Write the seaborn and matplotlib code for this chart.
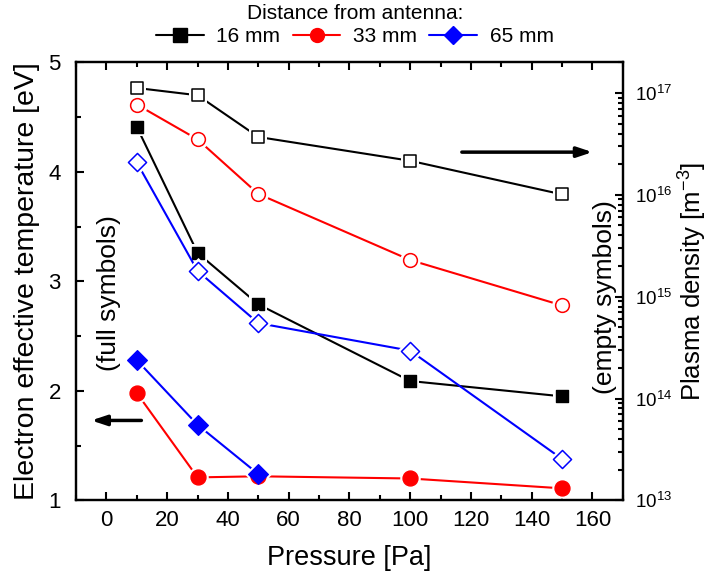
import matplotlib
matplotlib.use("Agg")
import matplotlib.pyplot as plt
from matplotlib.lines import Line2D
from matplotlib.ticker import MultipleLocator, LogLocator, NullFormatter
import pandas as pd
import seaborn as sns

# ---------------------------------------------------------------------------
# DATA
# ---------------------------------------------------------------------------
pressure = [10, 30, 50, 100, 150]
pressure_65 = [10, 30, 50]

# electron effective temperature [eV] (full symbols, left axis)
te_16 = [4.41, 3.26, 2.79, 2.09, 1.95]
te_33 = [1.98, 1.21, 1.22, 1.20, 1.11]
te_65 = [2.28, 1.69, 1.24]

# plasma density [m^-3] (empty symbols, right axis)
ne_16 = [1.12e17, 9.5e16, 3.7e16, 2.16e16, 1.01e16]
ne_33 = [7.7e16, 3.5e16, 1.02e16, 2.29e15, 8.2e14]
ne_65 = [2.08e16, 1.79e15, 5.5e14, 2.95e14, 2.55e13]

labels = ["16 mm", "33 mm", "65 mm"]
colors = ["black", "red", "blue"]
markers = ["s", "o", "D"]
msizes = [85, 115, 100]

sns.set_style("ticks")
plt.rcParams["font.family"] = ["Liberation Sans", "DejaVu Sans"]
plt.rcParams["mathtext.fontset"] = "custom"
plt.rcParams["mathtext.rm"] = "Liberation Sans"
plt.rcParams["mathtext.it"] = "Liberation Sans:italic"
for key in ["text.color", "axes.labelcolor", "xtick.color", "ytick.color",
            "axes.edgecolor"]:
    plt.rcParams[key] = "black"

fig = plt.figure(figsize=(7.11, 5.88), dpi=100)
ax = fig.add_axes([0.107, 0.149, 0.769, 0.745])
ax2 = ax.twinx()


def draw_series(axis, x, y, color, marker, size, filled):
    df = pd.DataFrame({"x": x, "y": y})
    sns.lineplot(data=df, x="x", y="y", color=color, linewidth=1.5,
                 ax=axis, zorder=2, legend=False)
    # white halo gives the gap between line and symbol
    sns.scatterplot(data=df, x="x", y="y", marker=marker, s=size * 1.9,
                    color="white", edgecolor="white", linewidth=0,
                    ax=axis, zorder=3, legend=False)
    sns.scatterplot(data=df, x="x", y="y", marker=marker,
                    s=size if filled else size * 0.85,
                    color=color if filled else "white",
                    edgecolor=color, linewidth=1.0 if filled else 1.1,
                    ax=axis, zorder=4, legend=False)


te_all = [(pressure, te_16), (pressure, te_33), (pressure_65, te_65)]
ne_all = [ne_16, ne_33, ne_65]

for (x, y), c, m, s in zip(te_all, colors, markers, msizes):
    draw_series(ax, x, y, c, m, s, True)
for y, c, m, s in zip(ne_all, colors, markers, msizes):
    draw_series(ax2, pressure, y, c, m, s, False)

# axes ranges / ticks
ax.set_xlim(-10, 170)
ax.set_ylim(1, 5)
ax.xaxis.set_major_locator(MultipleLocator(20))
ax.xaxis.set_minor_locator(MultipleLocator(10))
ax.yaxis.set_major_locator(MultipleLocator(1))
ax.yaxis.set_minor_locator(MultipleLocator(0.5))
ax.tick_params(which="both", direction="in", top=True, right=False,
               width=1.5, labelsize=16)
ax.tick_params(axis="y", pad=11)
ax.tick_params(axis="x", pad=7)
ax.tick_params(which="major", length=6)
ax.tick_params(which="minor", length=3.5)

ax2.set_yscale("log")
ax2.set_ylim(1e13, 2e17)
ax2.yaxis.set_major_locator(LogLocator(base=10, numticks=10))
ax2.yaxis.set_minor_locator(LogLocator(base=10, subs=range(2, 10), numticks=20))
ax2.yaxis.set_minor_formatter(NullFormatter())
ax2.tick_params(which="both", direction="in", width=1.5, labelsize=13.5, pad=9)
ax2.tick_params(which="major", length=6)
ax2.tick_params(which="minor", length=3.5)

for a in (ax, ax2):
    for sp in a.spines.values():
        sp.set_linewidth(1.6)

ax.set_xlabel("Pressure [Pa]", fontsize=19.5, labelpad=10)
ax.set_ylabel("Electron effective temperature [eV]", fontsize=20.5, labelpad=6)
ax2.set_ylabel("Plasma density [m$^{-3}$]", fontsize=18.5, labelpad=3)

# annotations
ax.text(1.0, 2.89, "(full symbols)", rotation=90, ha="center", va="center",
        fontsize=19)
ax.text(164, 2.86, "(empty symbols)", rotation=90, ha="center",
        va="center", fontsize=19)
ax.annotate("", xy=(160, 4.18), xytext=(117, 4.18),
            arrowprops=dict(arrowstyle="-|>,head_length=0.9,head_width=0.3",
                            color="black", lw=2.5, shrinkA=0, shrinkB=0))
ax.annotate("", xy=(-5, 1.73), xytext=(11.5, 1.73),
            arrowprops=dict(arrowstyle="-|>,head_length=0.9,head_width=0.3",
                            color="black", lw=2.5, shrinkA=0, shrinkB=0))

# legend above the plot
handles = [Line2D([], [], color=c, marker=m, markersize=10 if m != "D" else 9,
                  markerfacecolor=c, markeredgecolor=c, lw=1.5)
           for c, m in zip(colors, markers)]
fig.legend(handles, labels, loc="upper center", bbox_to_anchor=(0.499, 1.015),
           ncol=3, frameon=False, fontsize=15, title="Distance from antenna:",
           title_fontsize=15, handlelength=2.3, columnspacing=0.6,
           handletextpad=0.6, borderaxespad=0.2, labelspacing=0.2)

fig.savefig("out.png", dpi=100)
